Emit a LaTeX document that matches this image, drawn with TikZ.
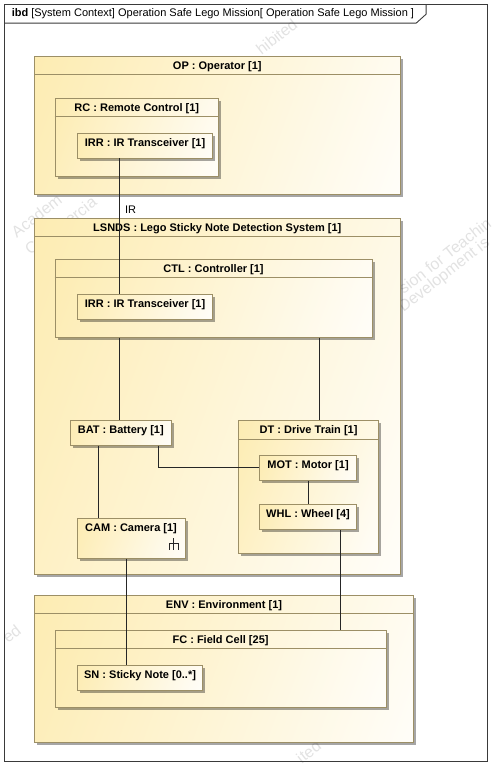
\documentclass[tikz,border=0pt]{standalone}
\usepackage{fontspec}
\setmainfont{Liberation Sans}
\usetikzlibrary{shadows,calc}
\definecolor{partedge}{HTML}{9C8F66}
\definecolor{partfill}{HTML}{FDEBAE}
\definecolor{frameedge}{HTML}{3A3A3A}
\definecolor{markgray}{HTML}{E2E2E2}
\pgfdeclarehorizontalshading{partshade}{100bp}{color(0bp)=(partfill); color(14bp)=(partfill); color(88bp)=(white); color(100bp)=(white)}
\tikzstyle{framebox} = [rectangle, draw=frameedge, line width=0.9pt, inner sep=0pt]
\tikzstyle{framelabel} = [anchor=west, inner sep=0pt, font=\fontsize{11}{13}\selectfont]
\tikzstyle{partbox} = [rectangle, anchor=north west, draw=partedge, line width=0.9pt, shade, shading=partshade, shading angle=-20, drop shadow={shadow xshift=2.5pt, shadow yshift=-2.5pt, fill=black, opacity=0.35}, inner ysep=3pt, inner xsep=0pt, text height=10pt, align=center, font=\fontsize{11}{13}\selectfont\bfseries]
\tikzstyle{partline} = [draw=partedge, line width=0.9pt]
\tikzstyle{link} = [draw=black!85, line width=0.7pt]
\tikzstyle{linklabel} = [inner sep=0pt, font=\fontsize{11}{13}\selectfont]
\tikzstyle{watermark} = [text=markgray, rotate=38, inner sep=0pt, font=\fontsize{16}{18}\selectfont]

\begin{document}
\begin{tikzpicture}[x=1pt, y=-1pt]
\useasboundingbox (0.4,0.4) rectangle (493.4,767.4);

% faint marks behind the parts
\node (markA) [watermark] at (37,216) {Academ};
\node (markB) [watermark] at (81,211) {ercia};
\node (markH) [watermark] at (32,248) {C};
\node (markC) [watermark] at (445,256) {sion for Teachin};
\node (markD) [watermark] at (445,276) {Development is};
\node (markE) [watermark] at (277,37) {hibited};
\node (markF) [watermark] at (12,634) {ed};
\node (markG) [watermark] at (309,752) {ited};

% frame
\node (frame) [framebox, minimum width=483, minimum height=757] at (246.5,383.5) {};
\coordinate (tabend) at ([yshift=-19pt]frame.north west);
\draw [framebox] (tabend) -- ++(412,0) -- ++(10,-9) -- ++(0,-10);
\node (frametitle) [framelabel] at (12,14.5) {\textbf{ibd}\hspace{3pt}[System Context] Operation Safe Lego Mission[ Operation Safe Lego Mission ]};

% operator
\node (op) [partbox, minimum width=365.5, text depth=122.5pt] at (34.5,56) {OP : Operator [1]};
\node (rc) [partbox, minimum width=163.5, text depth=62pt] at (55,98) {RC : Remote Control [1]};
\node (rcirr) [partbox, minimum width=135, text depth=9pt] at (77.5,133) {IRR : IR Transceiver [1]};

% detection system
\node (lsnds) [partbox, minimum width=365.5, text depth=340pt] at (34.5,218) {LSNDS : Lego Sticky Note Detection System [1]};
\node (ctl) [partbox, minimum width=317, text depth=62pt] at (55,259) {CTL : Controller [1]};
\node (ctlirr) [partbox, minimum width=135, text depth=9pt] at (77.5,294) {IRR : IR Transceiver [1]};
\node (bat) [partbox, minimum width=100.5, text depth=9pt] at (70.5,420) {BAT : Battery [1]};
\node (dt) [partbox, minimum width=140, text depth=116.5pt] at (238.5,420.5) {DT : Drive Train [1]};
\node (mot) [partbox, minimum width=97, text depth=9pt] at (259.5,455) {MOT : Motor [1]};
\node (whl) [partbox, minimum width=97, text depth=9pt] at (259.5,504.5) {WHL : Wheel [4]};
\node (cam) [partbox, minimum width=108, text depth=24pt] at (77,518) {CAM : Camera [1]};

% environment
\node (env) [partbox, minimum width=379, text depth=131.5pt] at (34.5,595) {ENV : Environment [1]};
\node (fc) [partbox, minimum width=331, text depth=61pt] at (55,630) {FC : Field Cell [25]};
\node (sn) [partbox, minimum width=125, text depth=9pt] at (77.5,665) {SN : Sticky Note [0..*]};

% header rules
\foreach \part in {op,rc,lsnds,ctl,dt,env,fc}
  \draw [partline] ([yshift=-19pt]\part.north west) -- ([yshift=-19pt]\part.north east);

% decomposition mark of the camera
\coordinate (fork) at ([shift={(-12,-15)}]cam.south east);
\draw [link, line width=0.9pt] ([yshift=-6pt]fork) -- ([yshift=6pt]fork);
\draw [link, line width=0.9pt] ([shift={(-4.5,6)}]fork) -- ([shift={(-4.5,0)}]fork) -- ([shift={(4.5,0)}]fork) -- ([shift={(4.5,6)}]fork);

% connectors
\draw [link] ([xshift=-26pt]rcirr.south) -- ([xshift=-26pt]ctlirr.north);
\draw [link] ([xshift=-1.7pt]bat.north |- ctl.south) -- ([xshift=-1.7pt]bat.north);
\draw [link] ([xshift=11pt]dt.north |- ctl.south) -- ([xshift=11pt]dt.north);
\draw [link] ([xshift=-22pt]bat.south) -- ([xshift=-22pt]bat.south |- cam.north);
\draw [link] ([xshift=37.5pt]bat.south) |- (mot.west);
\draw [link] ([xshift=0.7pt]mot.south) -- ([xshift=0.7pt]whl.north);
\draw [link] ([xshift=-4.5pt]cam.south) -- ([xshift=-4.5pt]cam.south |- sn.north);
\draw [link] ([xshift=32pt]whl.south) -- ([xshift=32pt]whl.south |- fc.north);
\node (irlabel) [linklabel] at (131,210) {IR};
\end{tikzpicture}
\end{document}
